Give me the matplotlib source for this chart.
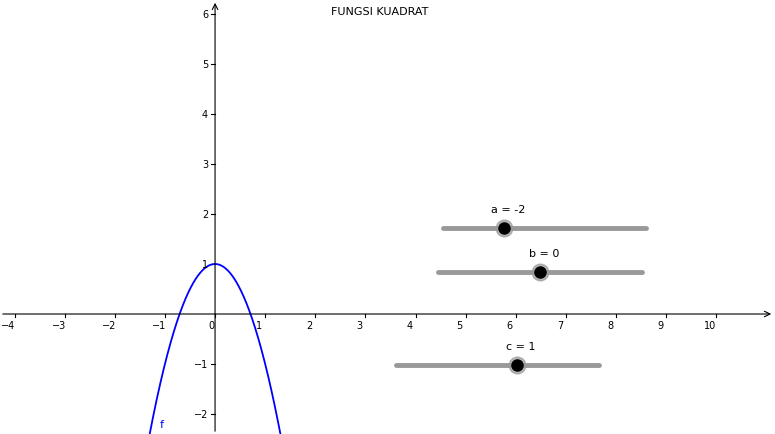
import numpy as np
import matplotlib
matplotlib.use("Agg")
import matplotlib.pyplot as plt

# slider parameters
a, b, c = -2, 0, 1
slider_names = ["a", "b", "c"]
slider_values = [a, b, c]
slider_x0 = [4.55, 4.45, 3.61]
slider_x1 = [8.60, 8.52, 7.66]
slider_y = [1.72, 0.84, -1.02]
slider_pt = [5.76, 6.48, 6.02]

x_ticks = [-4, -3, -2, -1, 0, 1, 2, 3, 4, 5, 6, 7, 8, 9, 10]
y_ticks = [-2, -1, 1, 2, 3, 4, 5, 6]

fig = plt.figure(figsize=(7.75, 4.35), dpi=100)
ax = fig.add_axes([0, 0, 1, 1])
xmin, xmax = -4.29, 11.17
ymin, ymax = -2.4, 6.3
ax.set_xlim(xmin, xmax)
ax.set_ylim(ymin, ymax)
ax.axis("off")

# axes with arrows
ax.annotate("", xy=(xmax - 0.02, 0), xytext=(xmin, 0),
            arrowprops=dict(arrowstyle="->", color="black", lw=0.8))
ax.annotate("", xy=(0, ymax - 0.02), xytext=(0, ymin),
            arrowprops=dict(arrowstyle="->", color="black", lw=0.8))
for t in x_ticks:
    ax.plot([t, t], [0, -0.06], color="black", lw=0.8)
    ax.text(t - 0.12 if t != 0 else t - 0.08, -0.13, f"{t}".replace("-", "\u2212"),
            ha="center", va="top", fontsize=7)
for t in y_ticks:
    ax.plot([0, -0.08], [t, t], color="black", lw=0.8)
    ax.text(-0.14, t, f"{t}".replace("-", "\u2212"), ha="right", va="center", fontsize=7)

# function
xs = np.linspace(-1.5, 1.5, 400)
ys = a * xs**2 + b * xs + c
ax.plot(xs, ys, color="#0000ff", lw=1.3)
ax.text(-1.1, -2.27, "f", color="#0000ff", fontsize=8)

# sliders
for name, val, x0, x1, y, p in zip(slider_names, slider_values, slider_x0,
                                   slider_x1, slider_y, slider_pt):
    ax.plot([x0, x1], [y, y], color="#999999", lw=3.5, solid_capstyle="round")
    ax.plot(p, y, "o", ms=12, color="#999999", alpha=0.7)
    ax.plot(p, y, "o", ms=8, color="black")
    ax.text(p + 0.08, y + 0.28, f"{name} = {val}", ha="center", va="bottom", fontsize=8)

ax.text(3.29, 6.06, "FUNGSI KUADRAT", ha="center", va="center", fontsize=8)

fig.savefig("out.png", dpi=100)
